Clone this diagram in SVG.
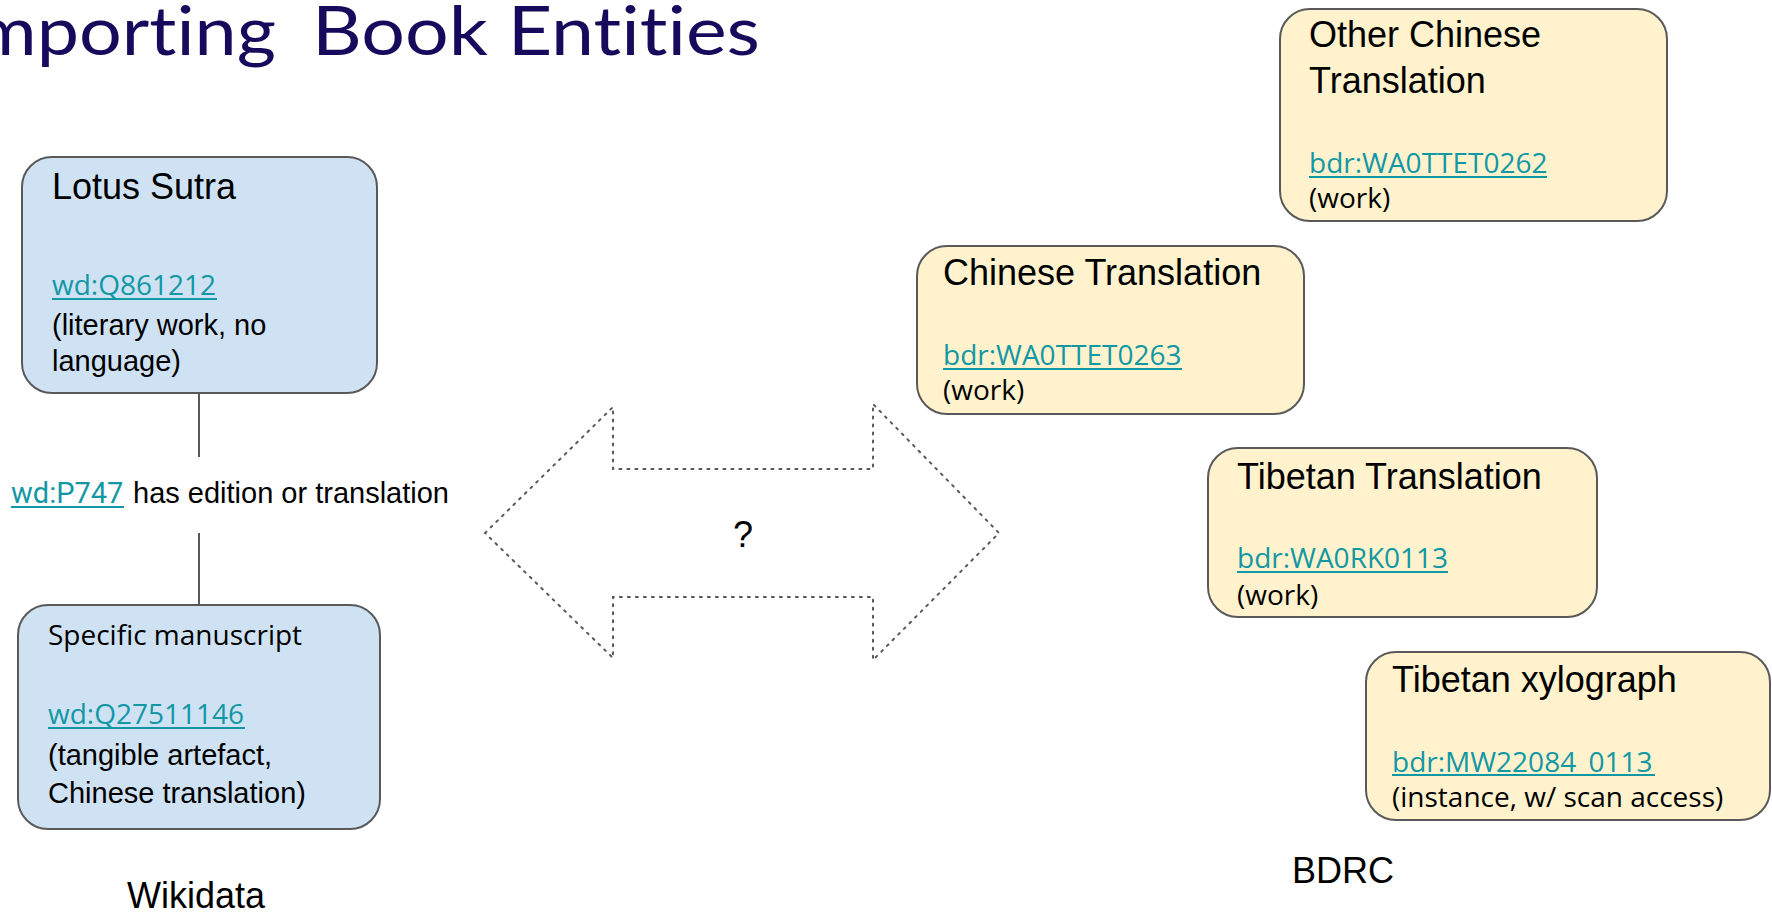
<svg xmlns="http://www.w3.org/2000/svg" width="1772" height="913" viewBox="0 0 1772 913">
<style>
.box{stroke:#595959;stroke-width:2}
.blue{fill:#cfe2f3}
.yel{fill:#fff2cc}
.head{font-family:"Liberation Sans",Arial,sans-serif;font-size:36px;fill:#000}
.arial{font-family:"Liberation Sans",Arial,sans-serif;font-size:29px;fill:#000}
.os{font-family:"Open Sans","Noto Sans",sans-serif;font-size:28px;fill:#000}
.link{font-family:"Open Sans","Noto Sans",sans-serif;font-size:28px;fill:#1297a5}
.ul{stroke:#1297a5;stroke-width:2}
.conn{stroke:#595959;stroke-width:2;fill:none}
.title{font-family:Lato,"Open Sans",sans-serif;font-size:68px;fill:#170a5c;font-variant-ligatures:none;font-feature-settings:"liga" 0}
</style>
<rect width="1772" height="913" fill="#ffffff"/>
<text class="title" y="55"><tspan x="-46" textLength="322" lengthAdjust="spacingAndGlyphs">Importing</tspan><tspan x="312" textLength="448" lengthAdjust="spacingAndGlyphs">Book Entities</tspan></text>

<g id="connectors">
<line class="conn" x1="199" y1="393" x2="199" y2="457"/>
<line class="conn" x1="199" y1="533" x2="199" y2="605"/>
<text class="arial" y="503"><tspan x="11" font-family="Roboto,sans-serif" fill="#1297a5">wd:P747</tspan><tspan x="133">has edition or translation</tspan></text>
<line class="ul" x1="11" y1="507" x2="124" y2="507"/>
</g>

<g id="lotus-sutra">
<rect class="box blue" x="22" y="157" width="355" height="236" rx="30"/>
<text class="head" x="52" y="199">Lotus Sutra</text>
<text class="link" x="52" y="295">wd:Q861212</text>
<line class="ul" x1="52" y1="299" x2="217" y2="299"/>
<text class="arial" x="52" y="335">(literary work, no</text>
<text class="arial" x="52" y="371">language)</text>
</g>

<g id="specific-manuscript">
<rect class="box blue" x="18" y="605" width="362" height="224" rx="30"/>
<text class="os" x="48" y="645">Specific manuscript</text>
<text class="link" x="48" y="724">wd:Q27511146</text>
<line class="ul" x1="48" y1="728" x2="245" y2="728"/>
<text class="arial" x="48" y="765">(tangible artefact,</text>
<text class="arial" x="48" y="803">Chinese translation)</text>
</g>

<g id="wikidata-label">
<text class="head" x="127" y="908">Wikidata</text>
</g>

<g id="double-arrow">
<path d="M485,533 L613,407 L613,469 L873,469 L873,404 L999,533 L873,660 L873,597 L613,597 L613,658 Z" fill="none" stroke="#595959" stroke-width="2" stroke-dasharray="2 6" stroke-linecap="round"/>
<text class="head" x="743" y="547" text-anchor="middle">?</text>
</g>

<g id="other-chinese-translation">
<rect class="box yel" x="1280" y="9" width="387" height="212" rx="30"/>
<text class="head" x="1309" y="47">Other Chinese</text>
<text class="head" x="1309" y="93">Translation</text>
<text class="link" x="1309" y="173">bdr:WA0TTET0262</text>
<line class="ul" x1="1309" y1="177" x2="1547" y2="177"/>
<text class="os" x="1309" y="208">(work)</text>
</g>

<g id="chinese-translation">
<rect class="box yel" x="917" y="246" width="387" height="168" rx="30"/>
<text class="head" x="943" y="285">Chinese Translation</text>
<text class="link" x="943" y="365">bdr:WA0TTET0263</text>
<line class="ul" x1="943" y1="369" x2="1182" y2="369"/>
<text class="os" x="943" y="400">(work)</text>
</g>

<g id="tibetan-translation">
<rect class="box yel" x="1208" y="448" width="389" height="169" rx="30"/>
<text class="head" x="1237" y="489">Tibetan Translation</text>
<text class="link" x="1237" y="568">bdr:WA0RK0113</text>
<line class="ul" x1="1237" y1="572" x2="1448" y2="572"/>
<text class="os" x="1237" y="605">(work)</text>
</g>

<g id="tibetan-xylograph">
<rect class="box yel" x="1366" y="652" width="404" height="168" rx="30"/>
<text class="head" x="1392" y="692">Tibetan xylograph</text>
<text class="link" x="1392" y="772">bdr:MW22084_0113</text>
<line class="ul" x1="1392" y1="775" x2="1655" y2="775"/>
<text class="os" x="1392" y="807">(instance, w/ scan access)</text>
</g>

<g id="bdrc-label">
<text class="head" x="1292" y="883">BDRC</text>
</g>
</svg>
